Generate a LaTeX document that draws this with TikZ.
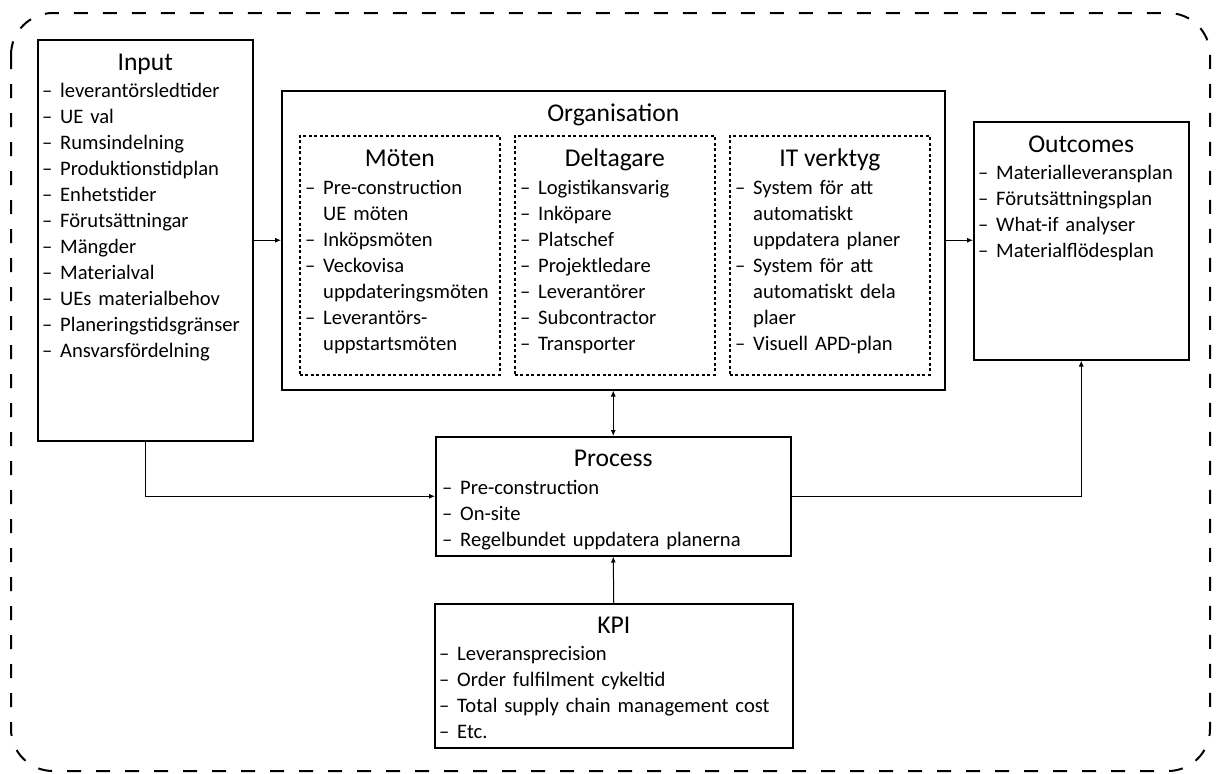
\documentclass[tikz,border=0pt]{standalone}
\usepackage{fontspec}
\setmainfont{Carlito}
\usetikzlibrary{positioning, arrows.meta}
\tikzset{
    box/.style={rectangle, draw=black, line width=1.5pt, anchor=north west, inner sep=0pt},
    subbox/.style={rectangle, draw=black, line width=1.8pt, dash pattern=on 3pt off 2.5pt, anchor=north west, inner sep=0pt},
    head/.style={anchor=base, inner sep=0pt, font=\fontsize{25.6}{30}\selectfont},
    list/.style={anchor=base west, inner sep=0pt, text width=340pt, align=left, font=\fontsize{20.6}{26}\selectfont},
    arrow/.style={line width=1pt, -{Latex[length=6pt, width=5pt]}},
    dblarrow/.style={line width=1pt, {Latex[length=6pt, width=5pt]}-{Latex[length=6pt, width=5pt]}},
    frame/.style={line width=2pt, dash pattern=on 14pt off 15pt, rounded corners=42pt}
}
\newcommand{\itemdash}{\makebox[18pt][l]{–}}
\newcommand{\itemgap}{\hspace*{18pt}}

\begin{document}
\begin{tikzpicture}[x=1pt, y=-1pt]
    \useasboundingbox (0,0) rectangle (1219,774);
    \draw[frame] (11,13) rectangle (1210,771);

    % boxes
    \node (input) [box, minimum width=215pt, minimum height=401pt] at (37,39) {};
    \node (org) [box, minimum width=663pt, minimum height=299pt] at (281,90) {};
    \node (moten) [subbox, minimum width=200pt, minimum height=239pt] at (299,135) {};
    \node (deltagare) [subbox, minimum width=200pt, minimum height=239pt] at (514,135) {};
    \node (itv) [subbox, minimum width=200pt, minimum height=239pt] at (729,135) {};
    \node (outcomes) [box, minimum width=215pt, minimum height=238pt] at (973,121) {};
    \node (process) [box, minimum width=355pt, minimum height=119pt] at (435,436) {};
    \node (kpi) [box, minimum width=358pt, minimum height=144pt] at (434,603) {};

    % titles
    \node (inputH) [head] at ([yshift=-31pt]input.north) {Input};
    \node (orgH) [head] at ([yshift=-31pt]org.north) {Organisation};
    \node (motenH) [head] at ([yshift=-31pt]moten.north) {Möten};
    \node (deltagareH) [head] at ([yshift=-31pt]deltagare.north) {Deltagare};
    \node (itvH) [head] at ([yshift=-31pt]itv.north) {IT verktyg};
    \node (outcomesH) [head] at ([yshift=-31pt]outcomes.north) {Outcomes};
    \node (processH) [head] at ([yshift=-30pt]process.north) {Process};
    \node (kpiH) [head] at ([yshift=-30pt]kpi.north) {KPI};

    % lists
    \node (inputL) [list] at ([xshift=5pt, yshift=-27pt]input.west |- inputH.base) {\itemdash leverantörsledtider\\ \itemdash UE val\\ \itemdash Rumsindelning\\ \itemdash Produktionstidplan\\ \itemdash Enhetstider\\ \itemdash Förutsättningar\\ \itemdash Mängder\\ \itemdash Materialval\\ \itemdash UEs materialbehov\\ \itemdash Planeringstidsgränser\\ \itemdash Ansvarsfördelning};
    \node (motenL) [list] at ([xshift=6pt, yshift=-28pt]moten.west |- motenH.base) {\itemdash Pre-construction\\ \itemgap UE möten\\ \itemdash Inköpsmöten\\ \itemdash Veckovisa\\ \itemgap uppdateringsmöten\\ \itemdash Leverantörs-\\ \itemgap uppstartsmöten};
    \node (deltagareL) [list] at ([xshift=6pt, yshift=-28pt]deltagare.west |- deltagareH.base) {\itemdash Logistikansvarig\\ \itemdash Inköpare\\ \itemdash Platschef\\ \itemdash Projektledare\\ \itemdash Leverantörer\\ \itemdash Subcontractor\\ \itemdash Transporter};
    \node (itvL) [list] at ([xshift=6pt, yshift=-28pt]itv.west |- itvH.base) {\itemdash System för att\\ \itemgap automatiskt\\ \itemgap uppdatera planer\\ \itemdash System för att\\ \itemgap automatiskt dela\\ \itemgap plaer\\ \itemdash Visuell APD-plan};
    \node (outcomesL) [list] at ([xshift=5pt, yshift=-27pt]outcomes.west |- outcomesH.base) {\itemdash Materialleveransplan\\ \itemdash Förutsättningsplan\\ \itemdash What-if analyser\\ \itemdash Materialflödesplan};
    \node (processL) [list] at ([xshift=7pt, yshift=-28pt]process.west |- processH.base) {\itemdash Pre-construction\\ \itemdash On-site\\ \itemdash Regelbundet uppdatera planerna};
    \node (kpiL) [list] at ([xshift=5pt, yshift=-27pt]kpi.west |- kpiH.base) {\itemdash Leveransprecision\\ \itemdash Order fulfilment cykeltid\\ \itemdash Total supply chain management cost\\ \itemdash Etc.};

    % connectors
    \draw [arrow] (input.east |- org.west) -- (org.west);
    \draw [arrow] (org.east) -- (outcomes.west |- org.east);
    \draw [dblarrow] (org.south) -- (process.north);
    \draw [arrow] (kpi.north) -- (process.south);
    \draw [arrow] (input.south) |- (process.west);
    \draw [arrow] (process.east) -| (outcomes.south);
\end{tikzpicture}
\end{document}
